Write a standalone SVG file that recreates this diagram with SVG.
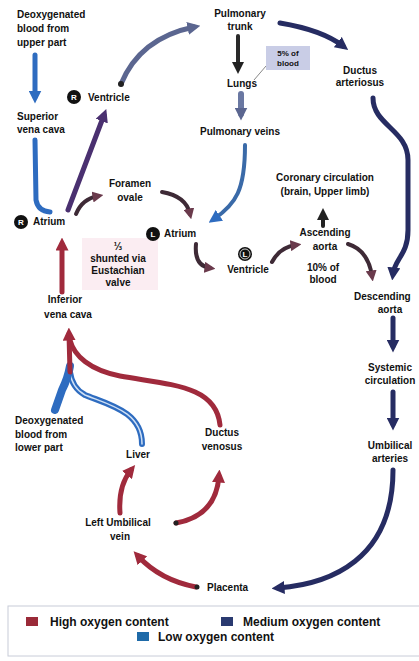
<svg xmlns="http://www.w3.org/2000/svg" width="419" height="661" viewBox="0 0 419 661">
<style>
  text { font-family: "Liberation Sans", Arial, sans-serif; font-weight: bold; font-size: 10px; fill: #111; }
  .m { text-anchor: middle; }
  .leg { font-size: 12px; }
  .c { fill: none; stroke-linecap: round; }
  .hi { stroke: #a02a3c; stroke-width: 5; }
  .med { stroke: #262c62; stroke-width: 5; }
  .lo { stroke: #2e6cc0; stroke-width: 5; }
  .dk { stroke: #3e2a36; stroke-width: 4; }
  .gb { stroke: #5b6690; stroke-width: 5; }
  .badge { fill: #111; }
  .badge-t { fill: #fff; font-size: 8px; text-anchor: middle; }
</style>
<defs>
  <marker id="aHi" viewBox="0 0 10 10" refX="5" refY="5" markerWidth="13" markerHeight="13" markerUnits="userSpaceOnUse" orient="auto"><path d="M0,0 L10,5 L0,10 z" fill="#a02a3c"/></marker>
  <marker id="aMed" viewBox="0 0 10 10" refX="5" refY="5" markerWidth="13" markerHeight="13" markerUnits="userSpaceOnUse" orient="auto"><path d="M0,0 L10,5 L0,10 z" fill="#262c62"/></marker>
  <marker id="aLo" viewBox="0 0 10 10" refX="5" refY="5" markerWidth="13" markerHeight="13" markerUnits="userSpaceOnUse" orient="auto"><path d="M0,0 L10,5 L0,10 z" fill="#2e6cc0"/></marker>
  <marker id="aDk" viewBox="0 0 10 10" refX="5" refY="5" markerWidth="11" markerHeight="11" markerUnits="userSpaceOnUse" orient="auto"><path d="M0,0 L10,5 L0,10 z" fill="#6a3a4c"/></marker>
  <marker id="aGb" viewBox="0 0 10 10" refX="5" refY="5" markerWidth="13" markerHeight="13" markerUnits="userSpaceOnUse" orient="auto"><path d="M0,0 L10,5 L0,10 z" fill="#5b6690"/></marker>
  <marker id="aPu" viewBox="0 0 10 10" refX="5" refY="5" markerWidth="13" markerHeight="13" markerUnits="userSpaceOnUse" orient="auto"><path d="M0,0 L10,5 L0,10 z" fill="#4a3070"/></marker>
  <marker id="aBk" viewBox="0 0 10 10" refX="5" refY="5" markerWidth="12" markerHeight="12" markerUnits="userSpaceOnUse" orient="auto"><path d="M0,0 L10,5 L0,10 z" fill="#222"/></marker>
</defs>
<rect width="419" height="661" fill="#fff"/>

<!-- shunt label background -->
<rect x="82" y="238" width="76" height="52" fill="#f6d8e2" opacity="0.45"/>

<g id="connectors">
  <path class="c lo" d="M35,55 L35,97" marker-end="url(#aLo)"/>
  <path class="c lo" d="M35,140 L36,200 Q38,211 50,212"/>
  <path class="c" stroke="#4a3070" stroke-width="5" d="M68,210 L104,115" marker-end="url(#aPu)"/>
  <path class="c gb" d="M121,84 Q140,38 194,27" marker-end="url(#aGb)"/>
  <circle cx="121" cy="84" r="3" fill="#222"/>
  <path class="c" stroke="#2a2a2a" stroke-width="4" d="M238,36 L238,68" marker-end="url(#aBk)"/>
  <path class="c" stroke="#6a78a2" stroke-width="6" d="M241,94 L241,114" marker-end="url(#aGb)"/>
  <path class="c" stroke="#3a6aa8" stroke-width="4" d="M245,145 C245,190 236,204 214,219" marker-end="url(#aLo)"/>
  <path class="c med" stroke-width="4" d="M280,23 Q322,30 343,46" marker-end="url(#aMed)"/>
  <path class="c med" d="M373,98 C373,125 408,130 408,160 L408,230 C408,255 395,258 393,274" marker-end="url(#aMed)"/>
  <path class="c med" d="M393,318 L393,346" marker-end="url(#aMed)"/>
  <path class="c med" d="M393,392 L393,424" marker-end="url(#aMed)"/>
  <path class="c med" d="M393,470 C393,560 330,584 278,588" marker-end="url(#aMed)"/>
  <path class="c hi" d="M196,587 Q160,580 138,556" marker-end="url(#aHi)"/>
  <circle cx="197" cy="587" r="2.5" fill="#222"/>
  <path class="c hi" d="M176,523 Q216,516 219,476" marker-end="url(#aHi)"/>
  <circle cx="176" cy="523" r="2.5" fill="#222"/>
  <path class="c hi" d="M120,513 Q118,486 131,470" marker-end="url(#aHi)"/>
  <path class="c" stroke="#2e6cc0" stroke-width="6" d="M142,444 C142,412 110,405 85,395 Q72,388 70,372"/>
  <path class="c" stroke="#cfe0f5" stroke-width="1.5" d="M142,444 C142,412 110,405 85,395 Q72,388 70,372"/>
  <path class="c" stroke="#2e6cc0" stroke-width="8" d="M55,410 L62,390 Q68,378 70,366"/>
  <path class="c hi" d="M220,425 C216,385 170,385 120,376 C90,370 74,356 70,340"/>
  <path class="c hi" d="M70,372 L69,334" marker-end="url(#aHi)"/>
  <path class="c hi" stroke-width="7" d="M62,292 L62,244" marker-end="url(#aHi)"/>
  <path class="c dk" d="M76,214 Q82,199 98,196" marker-end="url(#aDk)"/>
  <path class="c dk" d="M162,192 Q186,196 190,214" marker-end="url(#aDk)"/>
  <path class="c dk" d="M196,244 Q194,266 210,268" marker-end="url(#aDk)"/>
  <path class="c dk" d="M272,262 Q280,247 296,245" marker-end="url(#aDk)"/>
  <path class="c" stroke="#222" stroke-width="4" d="M323,226 L323,214" marker-end="url(#aBk)"/>
  <path class="c dk" d="M348,244 Q368,250 372,276" marker-end="url(#aDk)"/>
  <line x1="266" y1="66" x2="254" y2="80" stroke="#888" stroke-width="1"/>
</g>

<g id="upper-deoxy"><text x="17" y="18">Deoxygenated</text><text x="17" y="32">blood from</text><text x="17" y="46">upper part</text></g>
<g id="svc"><text x="17" y="120">Superior</text><text x="17" y="133">vena cava</text></g>
<g id="r-ventricle"><circle class="badge" cx="74" cy="97" r="7"/><text class="badge-t" x="74" y="100">R</text><text x="88" y="101">Ventricle</text></g>
<g id="pulmonary-trunk"><text class="m" x="240" y="17">Pulmonary</text><text class="m" x="240" y="30">trunk</text></g>
<g id="pct-box"><rect x="266" y="46" width="44" height="24" fill="#c9cde6"/><text class="m" x="288" y="56" style="font-size:8px">5% of</text><text class="m" x="288" y="66" style="font-size:8px">blood</text></g>
<g id="lungs"><text class="m" x="242" y="87">Lungs</text></g>
<g id="pulmonary-veins"><text class="m" x="240" y="135">Pulmonary veins</text></g>
<g id="ductus-arteriosus"><text class="m" x="360" y="74">Ductus</text><text class="m" x="360" y="86">arteriosus</text></g>
<g id="coronary"><text class="m" x="325" y="181">Coronary circulation</text><text class="m" x="325" y="195">(brain, Upper limb)</text></g>
<g id="foramen-ovale"><text class="m" x="130" y="187">Foramen</text><text class="m" x="130" y="201">ovale</text></g>
<g id="r-atrium"><circle class="badge" cx="21" cy="222" r="7"/><text class="badge-t" x="21" y="225">R</text><text x="33" y="225">Atrium</text></g>
<g id="l-atrium"><circle class="badge" cx="153" cy="234" r="7"/><text class="badge-t" x="153" y="237">L</text><text x="164" y="237">Atrium</text></g>
<g id="l-ventricle"><circle class="badge" cx="245" cy="254" r="7"/><circle cx="245" cy="254" r="5" fill="none" stroke="#fff" stroke-width="0.8"/><text class="badge-t" x="245" y="257">L</text><text class="m" x="248" y="273">Ventricle</text></g>
<g id="ascending-aorta"><text class="m" x="325" y="236">Ascending</text><text class="m" x="325" y="250">aorta</text></g>
<g id="pct10"><text class="m" x="323" y="271">10% of</text><text class="m" x="323" y="283">blood</text></g>
<g id="descending-aorta"><text x="354" y="300">Descending</text><text class="m" x="390" y="313">aorta</text></g>
<g id="shunt"><text class="m" x="118" y="250">⅓</text><text class="m" x="118" y="262">shunted via</text><text class="m" x="118" y="274">Eustachian</text><text class="m" x="118" y="286">valve</text></g>
<g id="ivc"><text class="m" x="65" y="303">Inferior</text><text class="m" x="68" y="318">vena cava</text></g>
<g id="lower-deoxy"><text x="15" y="424">Deoxygenated</text><text x="15" y="438">blood from</text><text x="15" y="451">lower part</text></g>
<g id="liver"><text class="m" x="138" y="458">Liver</text></g>
<g id="ductus-venosus"><text class="m" x="222" y="436">Ductus</text><text class="m" x="222" y="450">venosus</text></g>
<g id="systemic"><text class="m" x="390" y="371">Systemic</text><text class="m" x="390" y="384">circulation</text></g>
<g id="umbilical-arteries"><text class="m" x="390" y="449">Umbilical</text><text class="m" x="390" y="462">arteries</text></g>
<g id="left-umbilical-vein"><text class="m" x="118" y="526">Left Umbilical</text><text class="m" x="120" y="540">vein</text></g>
<g id="placenta"><text x="207" y="591">Placenta</text></g>

<g id="legend">
  <rect x="8" y="606" width="420" height="50" fill="#fff" stroke="#c8ccd8" stroke-width="1"/>
  <rect x="26" y="617" width="12" height="9" fill="#9a2a38"/>
  <text class="leg" x="50" y="626">High oxygen content</text>
  <rect x="221" y="617" width="12" height="9" fill="#2a3a70"/>
  <text class="leg" x="243" y="626">Medium oxygen content</text>
  <rect x="137" y="632" width="12" height="9" fill="#1e6aa8"/>
  <text class="leg" x="158" y="641">Low oxygen content</text>
</g>
</svg>
